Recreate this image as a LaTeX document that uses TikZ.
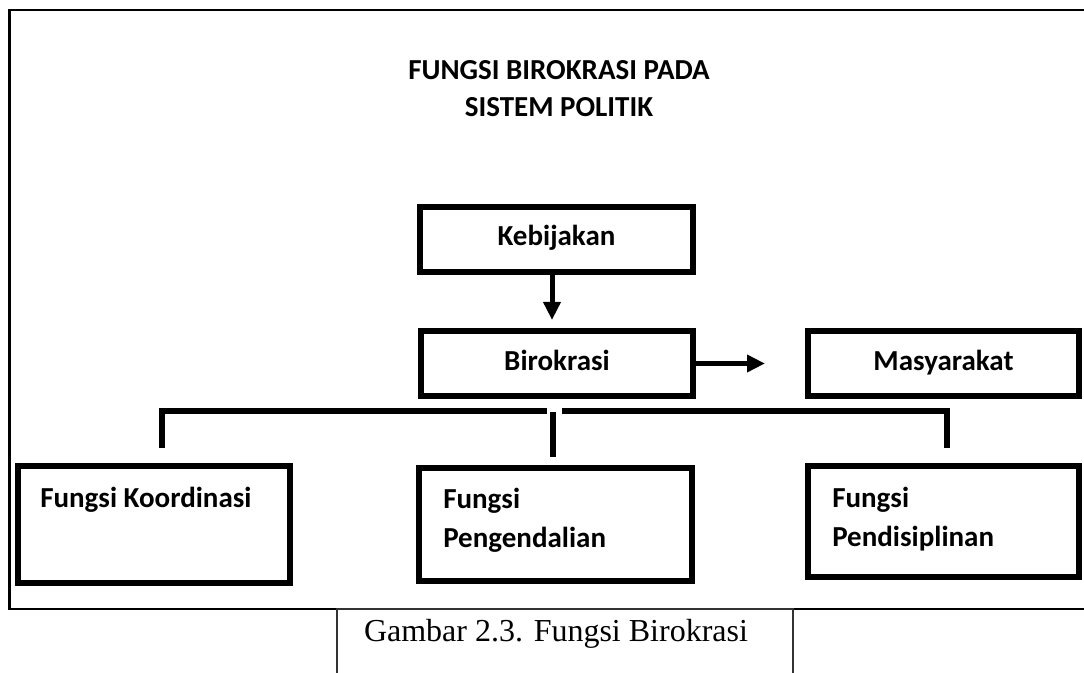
\documentclass[tikz,border=0pt]{standalone}
\usepackage{fontspec}
\setmainfont{Carlito}
\newfontfamily\capfont{Liberation Serif}
\usetikzlibrary{arrows.meta}

\begin{document}
\begin{tikzpicture}[x=0.75pt, y=-0.75pt,
  boxstyle/.style={draw=black, line width=4.5pt, rectangle, inner sep=0pt, fill=white},
  txt/.style={inner sep=0pt, font=\fontsize{21.75}{29.25}\selectfont\bfseries},
  bar/.style={line width=4.5pt, line join=miter, line cap=butt},
  arr/.style={line width=3.75pt, -{Triangle[length=13.5pt, width=12.5pt]}},
]
% page area
\clip (0,0) rectangle (1084,673);
\fill[white] (0,0) rectangle (1084,673);

% outer frame (its right edge lies past the page)
\draw[line width=1.6pt] (9.5,10) rectangle (1120,609);

% caption box, open at the bottom
\draw[line width=0.9pt, black!80] (337,690) -- (337,609) -- (793,609) -- (793,690);
\node[inner sep=0pt, anchor=base, font=\capfont\fontsize{24}{28}\selectfont] (cap) at (556,641) {Gambar 2.3. Fungsi Birokrasi};

% title
\node[txt, anchor=base] (title) at (559,80)
  {\begin{tabular}[t]{@{}c@{}}FUNGSI BIROKRASI PADA\\[-1.5pt] SISTEM POLITIK\end{tabular}};

% main boxes
\node[boxstyle, minimum width=273*0.75pt, minimum height=65*0.75pt] (keb) at (556.5,239.5) {};
\node[txt, anchor=base] (kebT) at (556.5,246) {Kebijakan};
\node[boxstyle, minimum width=272*0.75pt, minimum height=65*0.75pt] (biro) at (557,363.5) {};
\node[txt, anchor=base] (biroT) at (557,370) {Birokrasi};
\node[boxstyle, minimum width=271*0.75pt, minimum height=65*0.75pt] (masy) at (943.5,363.5) {};
\node[txt, anchor=base] (masyT) at (943.5,370) {Masyarakat};

% function boxes
\node[boxstyle, minimum width=272*0.75pt, minimum height=117*0.75pt] (koord) at (154,524.5) {};
\node[txt, anchor=base west] (koordT) at (40,507) {Fungsi Koordinasi};
\node[boxstyle, minimum width=273*0.75pt, minimum height=113*0.75pt] (kend) at (555.5,524.5) {};
\node[txt, anchor=base west] (kendT) at (443,508)
  {\begin{tabular}[t]{@{}l@{}}Fungsi\\Pengendalian\end{tabular}};
\node[boxstyle, minimum width=271*0.75pt, minimum height=111*0.75pt] (disip) at (943.5,521.5) {};
\node[txt, anchor=base west] (disipT) at (832,507)
  {\begin{tabular}[t]{@{}l@{}}Fungsi\\Pendisiplinan\end{tabular}};

% arrows
\coordinate (ax) at (552,0);
\draw[arr, shorten >=6pt] (keb.south -| ax) -- (biro.north -| ax);
\draw[arr, shorten >=30pt] (biro.east) -- (masy.west);

% branching bracket
\coordinate (brL) at (162,410.5);
\coordinate (brR) at (947,410.5);
\coordinate (gapL) at (547,410.5);
\coordinate (gapR) at (562,410.5);
\coordinate (stL) at (162,448);
\coordinate (stR) at (947,448);
\coordinate (stC1) at (553,412);
\coordinate (stC2) at (553,457);
\draw[bar] (stL) -- (brL) -- (gapL);
\draw[bar] (gapR) -- (brR) -- (stR);
\draw[bar] (stC1) -- (stC2);
\end{tikzpicture}
\end{document}
